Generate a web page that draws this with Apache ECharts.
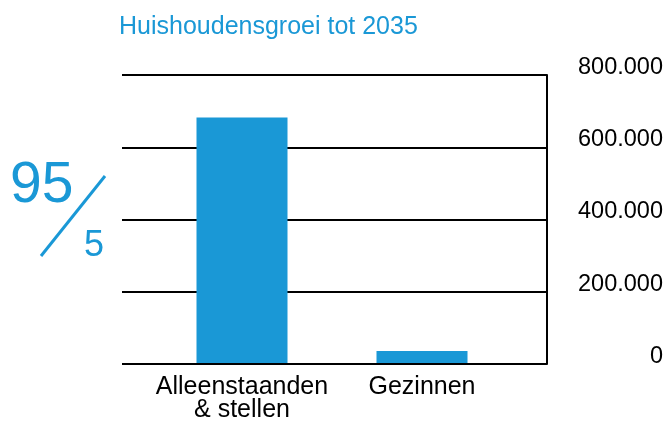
<!DOCTYPE html>
<html>
<head>
<meta charset="utf-8">
<script src="https://cdn.jsdelivr.net/npm/echarts@6/dist/echarts.min.js"></script>
<style>
  html, body { margin: 0; padding: 0; background: #fff; }
  #main { width: 668px; height: 423px; }
</style>
</head>
<body>
<div id="main"></div>
<script>
// data
var categories = ['Alleenstaanden\n& stellen', 'Gezinnen'];
var households = [682000, 33000];
var yMin = 0;
var yMax = 800000;
var yStep = 200000;

var blue = '#1a98d6';
var font = 'Liberation Sans, Arial, sans-serif';

var chart = echarts.init(document.getElementById('main'), null, { renderer: 'canvas' });

function fmt(v) {
  if (v === 0) return '0';
  return (v / 1000) + '.000';
}

var option = {
  animation: false,
  title: {
    text: 'Huishoudensgroei tot 2035',
    left: 119,
    top: 15,
    padding: 0,
    textStyle: { color: blue, fontSize: 25, fontWeight: 'normal', fontFamily: font }
  },
  grid: [
    // grid with the lines and right axis
    { left: 122, right: 121, top: 75, bottom: 59 },
    // narrower grid holding the bars
    { left: 152, right: 156, top: 75, bottom: 59 }
  ],
  xAxis: [
    {
      gridIndex: 0,
      type: 'category',
      data: ['', ''],
      axisLine: { show: false },
      axisTick: { show: false },
      axisLabel: { show: false }
    },
    {
      gridIndex: 1,
      type: 'category',
      data: categories,
      axisLine: { show: false },
      axisTick: { show: false },
      axisLabel: {
        interval: 0,
        color: '#000',
        fontSize: 25,
        lineHeight: 23,
        margin: 13,
        fontFamily: font
      }
    }
  ],
  yAxis: [
    {
      gridIndex: 0,
      type: 'value',
      position: 'right',
      min: yMin,
      max: yMax,
      interval: yStep,
      axisLine: { show: true, lineStyle: { color: '#000', width: 2 } },
      axisTick: { show: false },
      splitLine: { show: true, lineStyle: { color: '#000', width: 2 } },
      axisLabel: {
        formatter: fmt,
        color: '#000',
        fontSize: 23.5,
        align: 'right',
        verticalAlign: 'bottom',
        lineHeight: 15,
        margin: 116,
        fontFamily: font
      }
    },
    {
      gridIndex: 1,
      type: 'value',
      min: yMin,
      max: yMax,
      show: false
    }
  ],
  graphic: [
    {
      type: 'text',
      left: 10,
      top: 158,
      style: { text: '95', fill: blue, fontSize: 57, fontFamily: font }
    },
    {
      type: 'line',
      shape: { x1: 105, y1: 176, x2: 41, y2: 256 },
      style: { stroke: blue, lineWidth: 3 }
    },
    {
      type: 'text',
      left: 84,
      top: 228,
      style: { text: '5', fill: blue, fontSize: 36, fontFamily: font }
    }
  ],
  series: [
    {
      type: 'bar',
      xAxisIndex: 1,
      yAxisIndex: 1,
      data: households,
      barWidth: 91,
      itemStyle: { color: blue }
    }
  ]
};

chart.setOption(option);
</script>
</body>
</html>
